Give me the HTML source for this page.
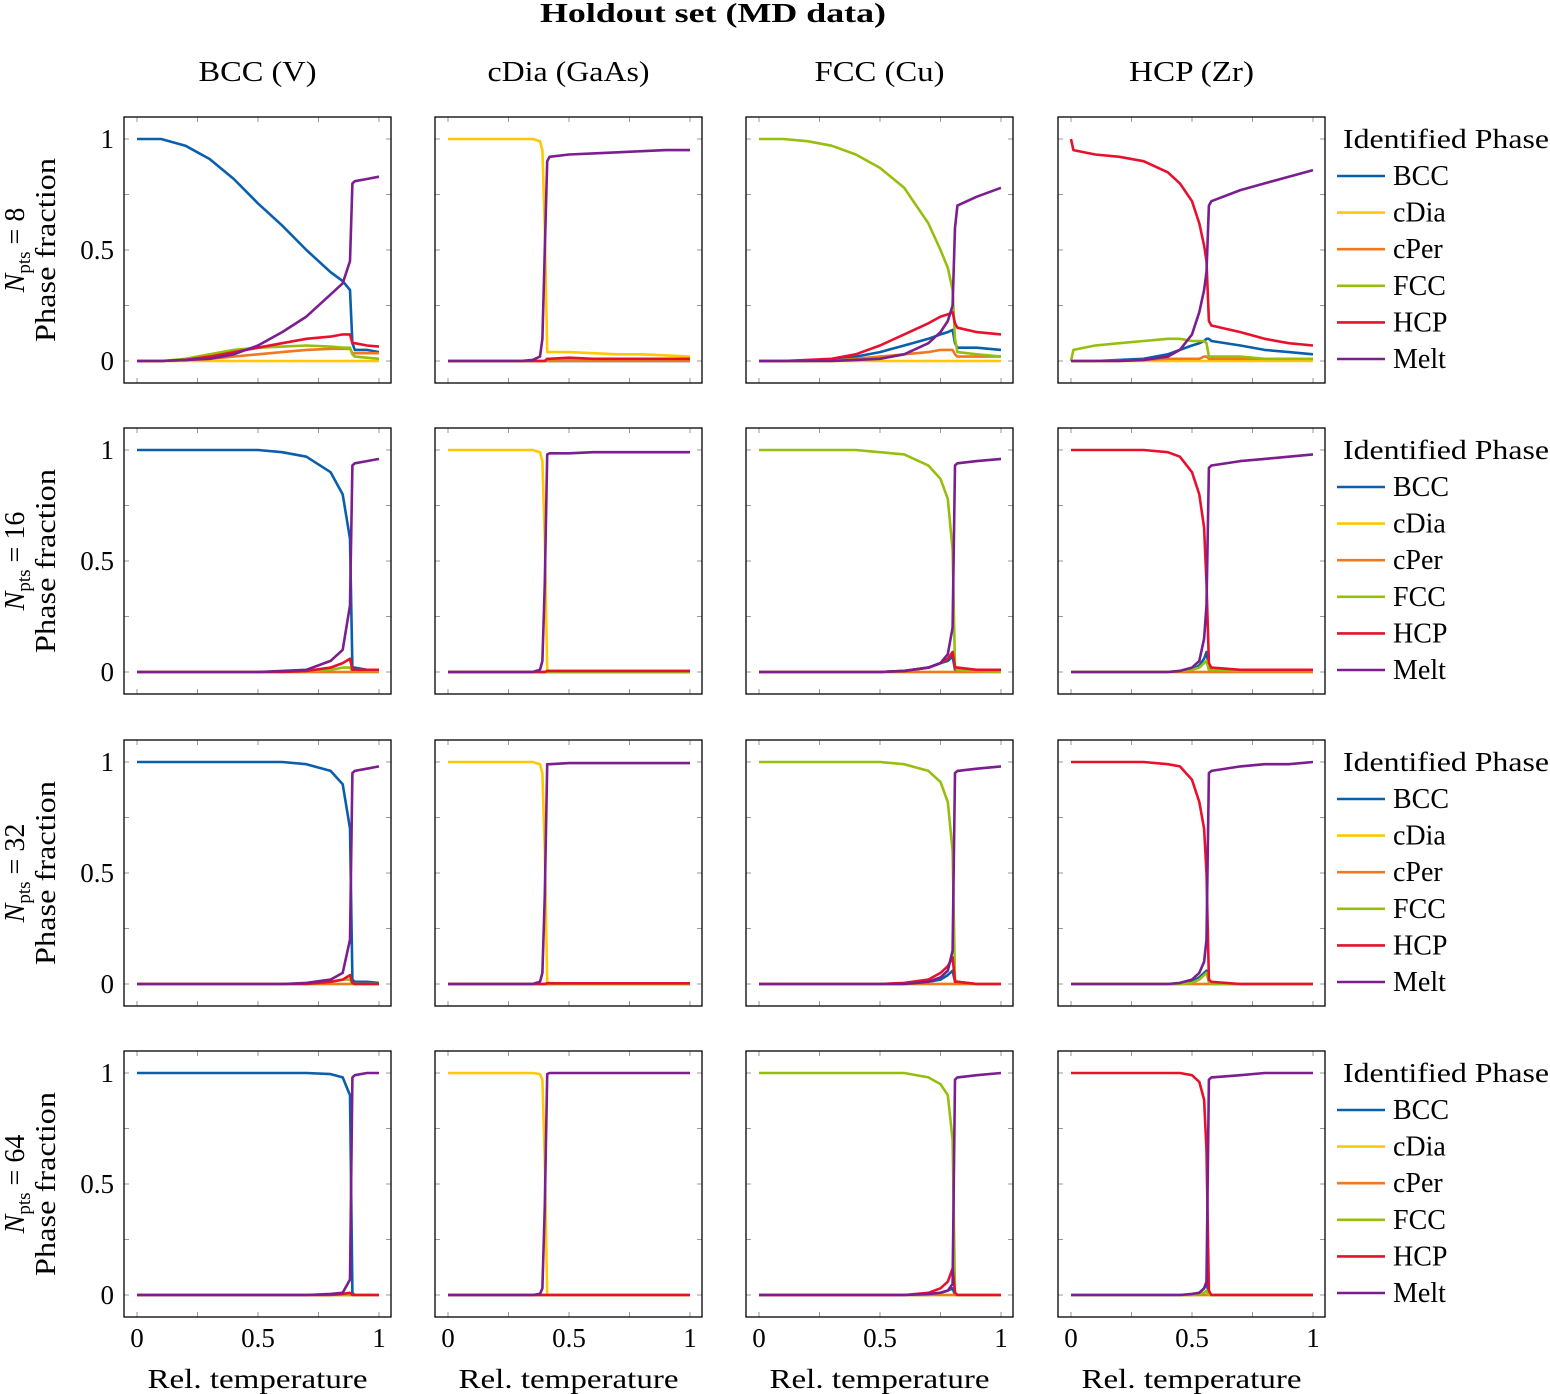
<!DOCTYPE html>
<html><head><meta charset="utf-8"><style>
html,body{margin:0;padding:0;background:#fff}
svg{display:block;font-family:"Liberation Serif",serif}
</style></head><body>
<svg id="fig" width="1550" height="1394" viewBox="0 0 1550 1394" xmlns="http://www.w3.org/2000/svg">
<text x="713" y="22" font-size="27" font-weight="bold" text-anchor="middle" textLength="346" lengthAdjust="spacingAndGlyphs">Holdout set (MD data)</text>
<g id="plots"></g>
</svg>
<script>
// temperature grids per column (BCC V, cDia GaAs, FCC Cu, HCP Zr)
const T0 = [0,.1,.2,.3,.4,.5,.6,.7,.8,.85,.88,.89,.9,.95,1];
const T1 = [0,.1,.2,.3,.35,.38,.39,.4,.41,.42,.5,.6,.7,.8,.9,1];
const T2 = [0,.1,.2,.3,.4,.5,.6,.7,.75,.78,.8,.81,.82,.9,1];
const T3 = [0,.01,.1,.2,.3,.4,.45,.5,.53,.55,.56,.57,.58,.7,.8,.9,1];
const Z0 = [0,0,0,0,0,0,0,0,0,0,0,0,0,0,0];
const Z1 = [0,0,0,0,0,0,0,0,0,0,0,0,0,0,0,0];
const Z2 = [0,0,0,0,0,0,0,0,0,0,0,0,0,0,0];
const Z3 = [0,0,0,0,0,0,0,0,0,0,0,0,0,0,0,0,0];
const colTitles = ["BCC (V)","cDia (GaAs)","FCC (Cu)","HCP (Zr)"];
const colTitleLen = [118,162,130,125];
const rowN = ["8","16","32","64"];
const phases = ["BCC","cDia","cPer","FCC","HCP","Melt"];
const colors = ["#0a5fad","#ffc800","#f0781e","#96bf0d","#e8112d","#7b1e8f"];
const yTicks = [0,0.5,1];
const xTicks = [0,0.5,1];

// Row N=8
const r0c0_BCC = [1,1,.97,.91,.82,.71,.61,.5,.4,.36,.32,.08,.05,.05,.04];
const r0c0_cDia = Z0;
const r0c0_cPer = [0,0,.005,.01,.02,.03,.04,.05,.055,.055,.055,.035,.035,.035,.035];
const r0c0_FCC = [0,0,.01,.03,.05,.06,.065,.07,.065,.06,.06,.03,.02,.015,.01];
const r0c0_HCP = [0,0,.005,.02,.04,.06,.08,.1,.11,.12,.12,.08,.08,.07,.065];
const r0c0_Melt = [0,0,.005,.01,.03,.07,.13,.2,.3,.35,.45,.8,.81,.82,.83];
const r0c1_BCC = Z1;
const r0c1_cDia = [1,1,1,1,1,.99,.95,.6,.04,.04,.04,.035,.03,.03,.025,.02];
const r0c1_cPer = Z1;
const r0c1_FCC = [0,0,0,0,0,0,0,0,.01,.01,.01,.01,.01,.01,.01,.01];
const r0c1_HCP = [0,0,0,0,0,0,0,0,.01,.01,.015,.01,.01,.01,.01,.01];
const r0c1_Melt = [0,0,0,0,.005,.02,.1,.5,.9,.92,.93,.935,.94,.945,.95,.95];
const r0c2_BCC = [0,0,0,.005,.02,.04,.07,.1,.12,.13,.14,.08,.06,.06,.05];
const r0c2_cDia = Z2;
const r0c2_cPer = [0,0,0,0,.01,.02,.03,.04,.05,.05,.05,.03,.02,.02,.02];
const r0c2_FCC = [1,1,.99,.97,.93,.87,.78,.62,.5,.42,.32,.1,.04,.03,.02];
const r0c2_HCP = [0,0,.005,.01,.03,.07,.12,.17,.2,.21,.22,.17,.15,.13,.12];
const r0c2_Melt = [0,0,0,0,.005,.01,.03,.08,.13,.18,.25,.6,.7,.74,.78];
const r0c3_BCC = [0,0,0,.005,.01,.03,.05,.07,.08,.09,.1,.1,.09,.07,.05,.04,.03];
const r0c3_cDia = Z3;
const r0c3_cPer = [0,0,0,0,.005,.01,.01,.01,.01,.02,.02,.01,.01,.01,.01,.01,.01];
const r0c3_FCC = [0,.05,.07,.08,.09,.1,.1,.09,.09,.09,.08,.02,.02,.02,.01,.01,.01];
const r0c3_HCP = [1,.95,.93,.92,.9,.85,.8,.72,.62,.52,.45,.18,.16,.13,.1,.08,.07];
const r0c3_Melt = [0,0,0,0,.005,.02,.05,.12,.22,.32,.4,.7,.72,.77,.8,.83,.86];
// Row N=16
const r1c0_BCC = [1,1,1,1,1,1,.99,.97,.9,.8,.6,.02,.02,.01,.01];
const r1c0_cDia = Z0;
const r1c0_cPer = Z0;
const r1c0_FCC = [0,0,0,0,0,0,0,.005,.01,.02,.02,.005,.005,.005,.005];
const r1c0_HCP = [0,0,0,0,0,0,0,.005,.02,.04,.06,.01,.01,.01,.01];
const r1c0_Melt = [0,0,0,0,0,0,.005,.01,.05,.1,.3,.93,.94,.95,.96];
const r1c1_BCC = Z1;
const r1c1_cDia = [1,1,1,1,1,.99,.95,.6,.01,.005,.005,.005,.005,.005,.005,.005];
const r1c1_cPer = Z1;
const r1c1_FCC = Z1;
const r1c1_HCP = [0,0,0,0,0,0,0,0,.005,.005,.005,.005,.005,.005,.005,.005];
const r1c1_Melt = [0,0,0,0,0,.01,.05,.4,.98,.985,.985,.99,.99,.99,.99,.99];
const r1c2_BCC = [0,0,0,0,0,0,.005,.02,.04,.05,.07,.01,.01,.01,.01];
const r1c2_cDia = Z2;
const r1c2_cPer = Z2;
const r1c2_FCC = [1,1,1,1,1,.99,.98,.93,.87,.78,.55,.02,.01,.005,0];
const r1c2_HCP = [0,0,0,0,0,0,.005,.02,.04,.06,.09,.02,.02,.01,.01];
const r1c2_Melt = [0,0,0,0,0,0,.005,.02,.04,.08,.2,.93,.94,.95,.96];
const r1c3_BCC = [0,0,0,0,0,0,.005,.01,.03,.06,.09,.02,.01,.01,.005,.005,.005];
const r1c3_cDia = Z3;
const r1c3_cPer = Z3;
const r1c3_FCC = [0,0,0,0,0,0,.005,.01,.02,.04,.05,.01,.01,.005,.005,.005,.005];
const r1c3_HCP = [1,1,1,1,1,.99,.97,.9,.8,.65,.4,.04,.02,.01,.01,.01,.01];
const r1c3_Melt = [0,0,0,0,0,0,.005,.02,.05,.15,.3,.92,.93,.95,.96,.97,.98];
// Row N=32
const r2c0_BCC = [1,1,1,1,1,1,1,.99,.96,.9,.7,.02,.01,.01,.005];
const r2c0_cDia = Z0;
const r2c0_cPer = Z0;
const r2c0_FCC = [0,0,0,0,0,0,0,0,.01,.02,.02,0,0,0,0];
const r2c0_HCP = [0,0,0,0,0,0,0,0,.01,.02,.04,.005,0,0,0];
const r2c0_Melt = [0,0,0,0,0,0,0,.005,.02,.05,.2,.95,.96,.97,.98];
const r2c1_BCC = Z1;
const r2c1_cDia = [1,1,1,1,1,.99,.95,.6,.01,.005,0,0,0,0,0,0];
const r2c1_cPer = Z1;
const r2c1_FCC = Z1;
const r2c1_HCP = [0,0,0,0,0,0,0,0,.003,.003,.003,.003,.003,.003,.003,.003];
const r2c1_Melt = [0,0,0,0,0,.01,.05,.4,.99,.99,.995,.995,.995,.995,.995,.995];
const r2c2_BCC = [0,0,0,0,0,0,0,.01,.02,.04,.06,.01,.01,0,0];
const r2c2_cDia = Z2;
const r2c2_cPer = Z2;
const r2c2_FCC = [1,1,1,1,1,1,.99,.96,.91,.82,.6,.02,.01,0,0];
const r2c2_HCP = [0,0,0,0,0,0,.005,.02,.05,.08,.12,.01,.01,0,0];
const r2c2_Melt = [0,0,0,0,0,0,0,.01,.03,.06,.15,.95,.96,.97,.98];
const r2c3_BCC = [0,0,0,0,0,0,0,.01,.03,.05,.06,.01,0,0,0,0,0];
const r2c3_cDia = Z3;
const r2c3_cPer = Z3;
const r2c3_FCC = [0,0,0,0,0,0,0,.005,.02,.04,.05,.01,0,0,0,0,0];
const r2c3_HCP = [1,1,1,1,1,.99,.98,.92,.82,.7,.5,.02,.01,0,0,0,0];
const r2c3_Melt = [0,0,0,0,0,0,.005,.02,.05,.1,.2,.95,.96,.98,.99,.99,1];
// Row N=64
const r3c0_BCC = [1,1,1,1,1,1,1,1,.995,.98,.9,.01,0,0,0];
const r3c0_cDia = Z0;
const r3c0_cPer = Z0;
const r3c0_FCC = Z0;
const r3c0_HCP = [0,0,0,0,0,0,0,0,0,.005,.01,0,0,0,0];
const r3c0_Melt = [0,0,0,0,0,0,0,0,.005,.01,.07,.98,.99,1,1];
const r3c1_BCC = Z1;
const r3c1_cDia = [1,1,1,1,1,.995,.97,.6,0,0,0,0,0,0,0,0];
const r3c1_cPer = Z1;
const r3c1_FCC = Z1;
const r3c1_HCP = Z1;
const r3c1_Melt = [0,0,0,0,0,.005,.03,.4,.995,1,1,1,1,1,1,1];
const r3c2_BCC = [0,0,0,0,0,0,0,0,.01,.02,.03,0,0,0,0];
const r3c2_cDia = Z2;
const r3c2_cPer = Z2;
const r3c2_FCC = [1,1,1,1,1,1,1,.98,.95,.9,.7,.01,0,0,0];
const r3c2_HCP = [0,0,0,0,0,0,0,.01,.03,.06,.12,.01,0,0,0];
const r3c2_Melt = [0,0,0,0,0,0,0,.005,.01,.02,.05,.97,.98,.99,1];
const r3c3_BCC = [0,0,0,0,0,0,0,0,.01,.03,.05,.01,0,0,0,0,0];
const r3c3_cDia = Z3;
const r3c3_cPer = Z3;
const r3c3_FCC = [0,0,0,0,0,0,0,0,.005,.01,.02,0,0,0,0,0,0];
const r3c3_HCP = [1,1,1,1,1,1,1,.99,.96,.88,.65,.02,0,0,0,0,0];
const r3c3_Melt = [0,0,0,0,0,0,0,.005,.01,.03,.06,.97,.98,.99,1,1,1];

const grids = [T0,T1,T2,T3];
const panelData = [
 [[r0c0_BCC,r0c0_cDia,r0c0_cPer,r0c0_FCC,r0c0_HCP,r0c0_Melt],[r0c1_BCC,r0c1_cDia,r0c1_cPer,r0c1_FCC,r0c1_HCP,r0c1_Melt],[r0c2_BCC,r0c2_cDia,r0c2_cPer,r0c2_FCC,r0c2_HCP,r0c2_Melt],[r0c3_BCC,r0c3_cDia,r0c3_cPer,r0c3_FCC,r0c3_HCP,r0c3_Melt]],
 [[r1c0_BCC,r1c0_cDia,r1c0_cPer,r1c0_FCC,r1c0_HCP,r1c0_Melt],[r1c1_BCC,r1c1_cDia,r1c1_cPer,r1c1_FCC,r1c1_HCP,r1c1_Melt],[r1c2_BCC,r1c2_cDia,r1c2_cPer,r1c2_FCC,r1c2_HCP,r1c2_Melt],[r1c3_BCC,r1c3_cDia,r1c3_cPer,r1c3_FCC,r1c3_HCP,r1c3_Melt]],
 [[r2c0_BCC,r2c0_cDia,r2c0_cPer,r2c0_FCC,r2c0_HCP,r2c0_Melt],[r2c1_BCC,r2c1_cDia,r2c1_cPer,r2c1_FCC,r2c1_HCP,r2c1_Melt],[r2c2_BCC,r2c2_cDia,r2c2_cPer,r2c2_FCC,r2c2_HCP,r2c2_Melt],[r2c3_BCC,r2c3_cDia,r2c3_cPer,r2c3_FCC,r2c3_HCP,r2c3_Melt]],
 [[r3c0_BCC,r3c0_cDia,r3c0_cPer,r3c0_FCC,r3c0_HCP,r3c0_Melt],[r3c1_BCC,r3c1_cDia,r3c1_cPer,r3c1_FCC,r3c1_HCP,r3c1_Melt],[r3c2_BCC,r3c2_cDia,r3c2_cPer,r3c2_FCC,r3c2_HCP,r3c2_Melt],[r3c3_BCC,r3c3_cDia,r3c3_cPer,r3c3_FCC,r3c3_HCP,r3c3_Melt]]
];

const NS = "http://www.w3.org/2000/svg";
const root = document.getElementById("plots");
const PX = [124,435,746,1058], PY = [117,428,740,1051], PW = 267, PH = 266;
function mk(tag, attrs, parent){ const e=document.createElementNS(NS,tag); for(const k in attrs) e.setAttribute(k,attrs[k]); parent.appendChild(e); return e; }
function xs(c,t){ return PX[c]+13+t*242; }
function ys(r,v){ return PY[r]+22+(1-v)*222; }

for(let c=0;c<4;c++){
  const t = mk("text",{x:PX[c]+PW/2,y:81,"font-size":28,"text-anchor":"middle",textLength:colTitleLen[c],lengthAdjust:"spacingAndGlyphs"},root);
  t.textContent = colTitles[c];
  
  
}
for(let r=0;r<4;r++){
  const cy = PY[r]+PH/2;
  const yl = mk("text",{transform:`translate(24,${cy}) rotate(-90)`,"font-size":28,"text-anchor":"middle"},root);
  yl.innerHTML = `<tspan font-style="italic">N</tspan><tspan font-size="19" dy="6">pts</tspan><tspan dy="-6"> = ${rowN[r]}</tspan>`;
  
  
  const yl2 = mk("text",{transform:`translate(55,${cy}) rotate(-90)`,"font-size":28,"text-anchor":"middle",textLength:184,lengthAdjust:"spacingAndGlyphs"},root);
  yl2.textContent = "Phase fraction";
  
  
  for(let c=0;c<4;c++){
    const g = mk("g",{},root);
    
    
    for(let k=0;k<=4;k++){
      const xx = xs(c,k/4), yy = ys(r,k/4);
      mk("line",{x1:xx,y1:PY[r],x2:xx,y2:PY[r]+5,stroke:"#999","stroke-width":1},g);
      mk("line",{x1:xx,y1:PY[r]+PH,x2:xx,y2:PY[r]+PH-5,stroke:"#999","stroke-width":1},g);
      mk("line",{x1:PX[c],y1:yy,x2:PX[c]+5,y2:yy,stroke:"#999","stroke-width":1},g);
      mk("line",{x1:PX[c]+PW,y1:yy,x2:PX[c]+PW-5,y2:yy,stroke:"#999","stroke-width":1},g);
    }
    const T = grids[c];
    panelData[r][c].forEach((vals,si)=>{
      const pts = vals.map((v,i)=>xs(c,T[i]).toFixed(1)+","+ys(r,v).toFixed(1)).join(" ");
      const pl = mk("polyline",{points:pts,fill:"none",stroke:colors[si],"stroke-width":2.6,"stroke-linejoin":"round"},g);
      
      
    });
    const fr = mk("rect",{x:PX[c],y:PY[r],width:PW,height:PH,fill:"none",stroke:"#000","stroke-width":1.3},g);
    
    
    if(c===0){
      yTicks.forEach(v=>{
        const tl = mk("text",{x:114,y:ys(r,v)+9,"font-size":27,"text-anchor":"end"},g);
        tl.textContent = String(v);
        
        
      });
    }
    if(r===3){
      xTicks.forEach(v=>{
        const tl = mk("text",{x:xs(c,v),y:1347,"font-size":27,"text-anchor":"middle"},g);
        tl.textContent = String(v);
        
        
      });
      const xt = mk("text",{x:PX[c]+PW/2,y:1388,"font-size":27,"text-anchor":"middle",textLength:220,lengthAdjust:"spacingAndGlyphs"},g);
      xt.textContent = "Rel. temperature";
      
      
    }
  }
  const lg = mk("g",{},root);
  
  
  const off = PY[r]-117;
  const h = mk("text",{x:1343,y:148+off,"font-size":27,textLength:206,lengthAdjust:"spacingAndGlyphs"},lg);
  h.textContent = "Identified Phase";
  
  
  phases.forEach((p,i)=>{
    const yy = 176+off+i*36.6;
    mk("line",{x1:1337,y1:yy,x2:1385,y2:yy,stroke:colors[i],"stroke-width":2.6},lg);
    const lt = mk("text",{x:1393,y:yy+9,"font-size":28},lg);
    lt.textContent = p;
    
    
  });
}
</script>
</body></html>
